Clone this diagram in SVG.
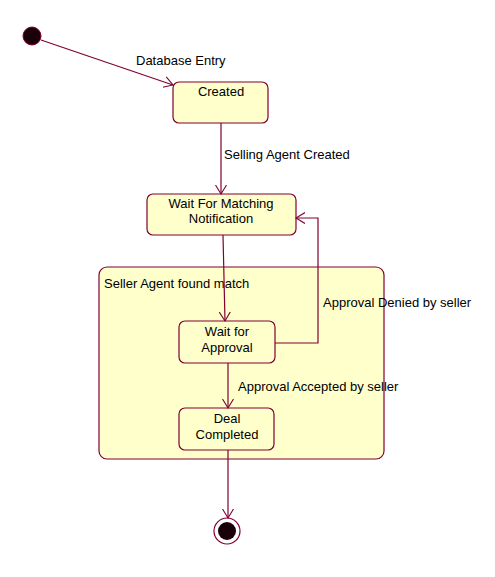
<svg xmlns="http://www.w3.org/2000/svg" width="495" height="577" viewBox="0 0 495 577">
<style>
text{font-family:"Liberation Sans",Arial,sans-serif;font-size:13px;fill:#000}
.st{fill:#FFFFCC;stroke:#800033;stroke-width:1.2}
.c{text-anchor:middle}
.ln{fill:none;stroke:#800033;stroke-width:1.2;marker-end:url(#arr)}
</style>
<defs>
<marker id="arr" markerUnits="userSpaceOnUse" markerWidth="12" markerHeight="14" refX="9" refY="6" orient="auto" viewBox="0 0 12 12">
<path d="M0,0.5 L9,6 L0,11.5" fill="none" stroke="#800033" stroke-width="1.1"/>
</marker>
</defs>
<rect width="495" height="577" fill="#fff"/>
<g id="composite">
<rect class="st" x="99" y="267" width="285" height="192" rx="8"/>
<text x="104" y="288">Seller Agent found match</text>
</g>
<g id="initial">
<circle cx="32" cy="36" r="9" fill="#1a0008" stroke="#800033" stroke-width="1"/>
</g>
<g id="created">
<rect class="st" x="173" y="82" width="95" height="41" rx="6"/>
<text class="c" x="221" y="96">Created</text>
</g>
<g id="waitMatching">
<rect class="st" x="147" y="194" width="149" height="41" rx="6"/>
<text class="c" x="221" y="208">Wait For Matching</text>
<text class="c" x="221" y="223">Notification</text>
</g>
<g id="waitApproval">
<rect class="st" x="179" y="321" width="96" height="42" rx="6"/>
<text class="c" x="227" y="336">Wait for</text>
<text class="c" x="227" y="352">Approval</text>
</g>
<g id="dealCompleted">
<rect class="st" x="179" y="408" width="95" height="42" rx="6"/>
<text class="c" x="227" y="423">Deal</text>
<text class="c" x="227" y="439">Completed</text>
</g>
<g id="final">
<circle cx="227" cy="531" r="13" fill="#fff" stroke="#800033" stroke-width="1.2"/>
<circle cx="227" cy="531" r="9" fill="#1a0008"/>
</g>
<g id="connectors">
<line class="ln" x1="41" y1="40" x2="173" y2="85"/>
<text x="136" y="65">Database Entry</text>
<line class="ln" x1="221" y1="123" x2="221" y2="194"/>
<text x="224" y="159">Selling Agent Created</text>
<line class="ln" x1="223" y1="235" x2="225" y2="321"/>
<polyline class="ln" points="275,343 318,343 318,218 296,218"/>
<text x="323" y="307">Approval Denied by seller</text>
<line class="ln" x1="228" y1="363" x2="228" y2="408"/>
<text x="238" y="391">Approval Accepted by seller</text>
<line class="ln" x1="228" y1="450" x2="228" y2="518"/>
</g>
</svg>
